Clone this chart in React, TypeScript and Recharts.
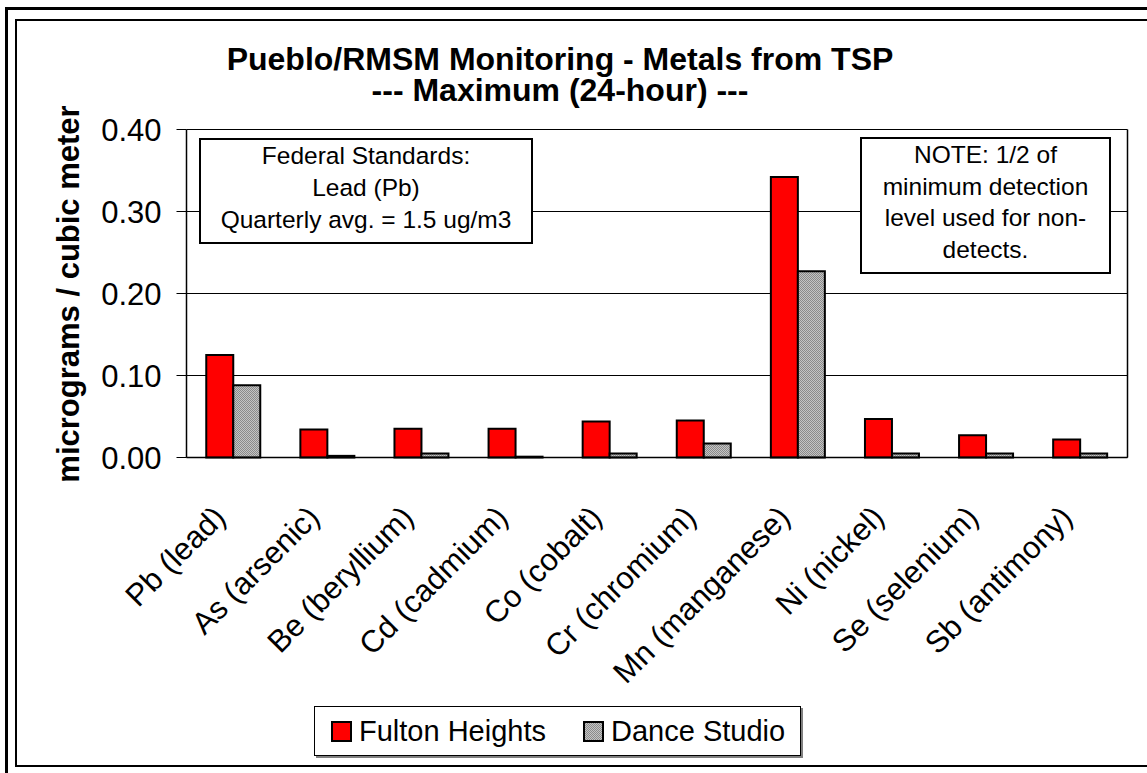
import { BarChart, Bar, XAxis, YAxis, CartesianGrid } from 'recharts';

const metals = [
  'Pb (lead)',
  'As (arsenic)',
  'Be (beryllium)',
  'Cd (cadmium)',
  'Co (cobalt)',
  'Cr (chromium)',
  'Mn (manganese)',
  'Ni (nickel)',
  'Se (selenium)',
  'Sb (antimony)',
];
const fultonHeights = [0.125, 0.034, 0.035, 0.035, 0.044, 0.045, 0.342, 0.047, 0.027, 0.022];
const danceStudio = [0.088, 0.002, 0.005, 0.001, 0.005, 0.017, 0.227, 0.005, 0.005, 0.005];
const yTicks = [0, 0.1, 0.2, 0.3, 0.4];
const categoryEdges = [0, 1, 2, 3, 4, 5, 6, 7, 8, 9, 10];

const data = metals.map((metal, i) => ({
  metal,
  fulton: fultonHeights[i],
  dance: danceStudio[i],
}));

const FONT = '"Liberation Sans", Arial, sans-serif';

const AngledTick = (props: any) => {
  const { x, y, payload } = props;
  return (
    <g transform={`translate(${x - 14},${y + 46})`}>
      <text
        x={0}
        y={0}
        dy="0.35em"
        textAnchor="end"
        transform="rotate(-45)"
        fontSize={31}
        fontFamily={FONT}
        fill="#000"
      >
        {payload.value}
      </text>
    </g>
  );
};

export default function App() {
  return (
    <div
      style={{
        position: 'absolute',
        left: 0,
        top: 0,
        width: 1147,
        height: 773,
        overflow: 'hidden',
        background: '#fff',
        fontFamily: FONT,
        color: '#000',
      }}
    >
      <svg width={0} height={0} style={{ position: 'absolute' }}>
        <defs>
          <pattern id="dots" width={2} height={2} patternUnits="userSpaceOnUse">
            <rect width={2} height={2} fill="#c4c4c4" />
            <rect width={1} height={1} fill="#8a8a8a" />
            <rect x={1} y={1} width={1} height={1} fill="#8a8a8a" />
          </pattern>
        </defs>
      </svg>

      {/* outer and inner frames */}
      <div style={{ position: 'absolute', left: 5, top: 7, width: 1200, height: 800, border: '3px solid #000' }} />
      <div
        style={{
          position: 'absolute',
          left: 15,
          top: 19,
          width: 1200,
          height: 744,
          border: '2px solid #000',
        }}
      />

      <div style={{ position: 'absolute', left: 0, top: 0 }}>
        <BarChart
          width={1147}
          height={773}
          data={data}
          margin={{ top: 129.5, right: 18.5, bottom: 313.5, left: 106.5 }}
          barCategoryGap="21%"
          barGap={0}
        >
          <CartesianGrid vertical={false} stroke="#000" strokeWidth={1} />
          <XAxis
            dataKey="metal"
            height={1}
            interval={0}
            tickLine={false}
            axisLine={{ stroke: '#000', strokeWidth: 1.5 }}
            tick={<AngledTick />}
          />
          <XAxis
            xAxisId="edges"
            type="number"
            domain={[0, 10]}
            ticks={categoryEdges}
            interval={0}
            allowDataOverflow
            height={1}
            tick={false}
            axisLine={false}
            tickLine={{ stroke: '#000', strokeWidth: 1.5 }}
            tickSize={8}
          />
          <YAxis
            width={80}
            domain={[0, 0.4]}
            ticks={yTicks}
            interval={0}
            tickFormatter={(v: number) => v.toFixed(2)}
            axisLine={{ stroke: '#000', strokeWidth: 1.5 }}
            tickLine={{ stroke: '#000', strokeWidth: 1 }}
            tickSize={10}
            tickMargin={15}
            tick={{ fontSize: 31, fill: '#000', fontFamily: FONT }}
          />
          <YAxis
            yAxisId="frame"
            orientation="right"
            width={1}
            tick={false}
            tickLine={false}
            axisLine={{ stroke: '#000', strokeWidth: 1.5 }}
          />
          <Bar dataKey="fulton" fill="#ff0000" stroke="#000" strokeWidth={2} isAnimationActive={false} />
          <Bar dataKey="dance" fill="url(#dots)" stroke="#000" strokeWidth={2} isAnimationActive={false} />
        </BarChart>
      </div>

      {/* title */}
      <div
        style={{
          position: 'absolute',
          left: 16,
          width: 1088,
          top: 44,
          textAlign: 'center',
          fontWeight: 'bold',
          fontSize: 32,
          lineHeight: '31px',
          whiteSpace: 'nowrap',
        }}
      >
        <div>Pueblo/RMSM Monitoring - Metals from TSP</div>
        <div>--- Maximum (24-hour) ---</div>
      </div>

      {/* y axis title */}
      <div
        style={{
          position: 'absolute',
          left: 69,
          top: 294,
          transform: 'translate(-50%, -50%) rotate(-90deg)',
          whiteSpace: 'nowrap',
          fontWeight: 'bold',
          fontSize: 31,
          lineHeight: '34px',
        }}
      >
        micrograms / cubic meter
      </div>

      {/* notes */}
      <div
        style={{
          position: 'absolute',
          left: 199,
          top: 138,
          width: 330,
          height: 102,
          border: '2px solid #000',
          background: '#fff',
          textAlign: 'center',
          fontSize: 24.5,
          lineHeight: '32px',
        }}
      >
        Federal Standards:
        <br />
        Lead (Pb)
        <br />
        Quarterly avg. = 1.5 ug/m3
      </div>
      <div
        style={{
          position: 'absolute',
          left: 860,
          top: 137,
          width: 247,
          height: 133,
          border: '2px solid #000',
          background: '#fff',
          textAlign: 'center',
          fontSize: 24.5,
          lineHeight: '31.5px',
        }}
      >
        NOTE: 1/2 of
        <br />
        minimum detection
        <br />
        level used for non-
        <br />
        detects.
      </div>

      {/* legend */}
      <div
        style={{
          position: 'absolute',
          left: 314,
          top: 706,
          width: 487,
          height: 50,
          border: '1px solid #000',
          boxShadow: '2px 2px 0 #808080',
          background: '#fff',
          display: 'flex',
          alignItems: 'center',
          paddingLeft: 16,
          boxSizing: 'border-box',
          fontSize: 29,
        }}
      >
        <svg width={21} height={21} style={{ marginRight: 7 }}>
          <rect x={1} y={1} width={19} height={19} fill="#ff0000" stroke="#000" strokeWidth={2} />
        </svg>
        <span style={{ marginRight: 37 }}>Fulton Heights</span>
        <svg width={21} height={21} style={{ marginRight: 7 }}>
          <rect x={1} y={1} width={19} height={19} fill="url(#dots)" stroke="#000" strokeWidth={2} />
        </svg>
        <span>Dance Studio</span>
      </div>
    </div>
  );
}
